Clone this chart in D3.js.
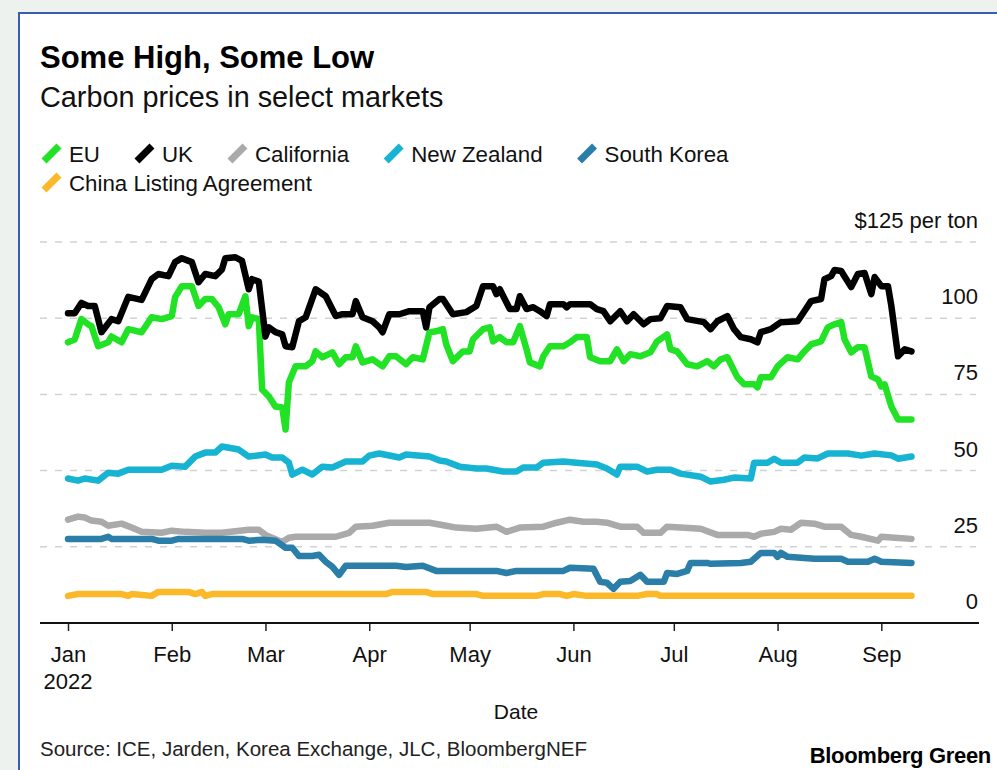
<!DOCTYPE html>
<html><head><meta charset="utf-8">
<script src="https://cdn.jsdelivr.net/npm/d3@7"></script>
<style>
body{margin:0;background:#eef2ee;}
svg{display:block;}
text{font-family:"Liberation Sans",Arial,Helvetica,sans-serif;}
</style>
</head><body>
<svg id="chart" width="997" height="770"></svg>
<script>
// ---------- DATA ----------
const seriesNames = ["EU", "UK", "California", "New Zealand", "South Korea", "China Listing Agreement"];
const seriesColors = ["#22e226", "#000000", "#aaaaaa", "#16b4d2", "#2b7ea8", "#fbb829"];
const monthTicks = ["Jan", "Feb", "Mar", "Apr", "May", "Jun", "Jul", "Aug", "Sep"];
const yTicks = [0, 25, 50, 75, 100, 125];

const eu = [["Jan 1",92.1],["Jan 3",93],["Jan 5",99.7],["Jan 7",98],["Jan 8",97.4],["Jan 10",90.8],["Jan 13",92.1],["Jan 14",94],["Jan 17",92.1],["Jan 19",96.4],["Jan 23",95.4],["Jan 26",100.3],["Jan 29",99.7],["Feb 1",100.7],["Feb 2",106.9],["Feb 4",110.5],["Feb 7",110.5],["Feb 9",104],["Feb 11",106.3],["Feb 13",106.3],["Feb 15",103.6],["Feb 17",98],["Feb 18",101.3],["Feb 21",101.3],["Feb 23",107.2],["Feb 24",97.4],["Feb 25",100.3],["Feb 27",99.7],["Feb 28",76.6],["Mar 2",74.3],["Mar 4",71],["Mar 6",70.7],["Mar 7",63.5],["Mar 8",79],["Mar 10",84.2],["Mar 13",84.2],["Mar 15",85.9],["Mar 16",89.1],["Mar 18",87.2],["Mar 21",88.8],["Mar 23",84.9],["Mar 25",87.2],["Mar 27",87.2],["Mar 28",90.8],["Mar 30",85.5],["Apr 2",86.5],["Apr 5",84.2],["Apr 7",87.5],["Apr 9",87.5],["Apr 12",84.9],["Apr 14",87.2],["Apr 17",86.5],["Apr 19",95.4],["Apr 21",95.7],["Apr 23",96.4],["Apr 24",91.4],["Apr 26",85.9],["Apr 29",89.1],["May 1",89.1],["May 2",93.1],["May 5",96.4],["May 7",97],["May 8",92.4],["May 10",93.8],["May 12",92.1],["May 14",92.1],["May 16",97.4],["May 18",89.8],["May 19",85.5],["May 22",84.2],["May 23",87.5],["May 25",90.8],["May 29",90.8],["May 31",92.1],["Jun 2",93.8],["Jun 5",93.8],["Jun 6",87.2],["Jun 9",85.9],["Jun 12",85.9],["Jun 14",89.8],["Jun 16",85.9],["Jun 18",88.2],["Jun 21",87.5],["Jun 24",88.8],["Jun 26",92.4],["Jun 29",94.7],["Jun 30",89.8],["Jul 2",89.1],["Jul 5",84.9],["Jul 8",84.2],["Jul 11",85.9],["Jul 13",84.2],["Jul 15",86.5],["Jul 17",87.2],["Jul 20",80.6],["Jul 22",78.3],["Jul 25",78.3],["Jul 26",77.3],["Jul 27",80.6],["Jul 30",80.6],["Aug 1",84.2],["Aug 4",87.2],["Aug 7",86.5],["Aug 9",89.1],["Aug 11",91.4],["Aug 14",92.4],["Aug 16",97],["Aug 18",98],["Aug 20",98.7],["Aug 21",93.1],["Aug 23",88.8],["Aug 25",90.5],["Aug 27",90.5],["Aug 29",80.9],["Aug 31",79.9],["Sep 1",77.6],["Sep 2",78.3],["Sep 4",71],["Sep 6",66.8],["Sep 10",66.8]];

const uk = [["Jan 1",101.6],["Jan 3",101.6],["Jan 5",105],["Jan 7",104],["Jan 9",104],["Jan 11",95.4],["Jan 14",99.7],["Jan 16",99],["Jan 19",107],["Jan 23",106],["Jan 26",112.8],["Jan 28",114.5],["Jan 31",113.8],["Feb 2",118.4],["Feb 4",119.7],["Feb 7",118.4],["Feb 9",111.8],["Feb 11",114.5],["Feb 14",113.8],["Feb 16",116],["Feb 17",119.7],["Feb 20",120],["Feb 22",118.8],["Feb 24",109.5],["Feb 25",112.8],["Feb 27",112],["Mar 1",94],["Mar 2",97],["Mar 4",95.4],["Mar 6",94.7],["Mar 7",90.8],["Mar 9",90.5],["Mar 11",99],["Mar 13",100.3],["Mar 16",109.5],["Mar 19",107.2],["Mar 22",100.7],["Mar 24",101.3],["Mar 27",101.3],["Mar 28",105.6],["Mar 30",100.3],["Apr 2",99],["Apr 4",97],["Apr 5",95.4],["Apr 7",101.3],["Apr 10",101.3],["Apr 13",102.3],["Apr 17",102.3],["Apr 18",97],["Apr 19",103.6],["Apr 22",106.3],["Apr 23",106.3],["Apr 26",101.3],["Apr 30",102],["May 3",104],["May 5",110.5],["May 8",110.5],["May 9",107.9],["May 10",109.5],["May 13",103],["May 15",103],["May 16",107.2],["May 18",103],["May 20",103.6],["May 22",102.3],["May 24",100.7],["May 25",104.6],["May 29",104.6],["May 30",103.6],["May 31",104.6],["Jun 6",104.6],["Jun 8",103],["Jun 10",102.3],["Jun 12",99],["Jun 15",102.3],["Jun 17",99],["Jun 19",101.3],["Jun 22",98],["Jun 24",99.7],["Jun 27",100],["Jun 29",104],["Jul 3",103.6],["Jul 5",99.7],["Jul 10",98.7],["Jul 12",96.4],["Jul 14",99],["Jul 17",100.7],["Jul 19",96.4],["Jul 21",93.8],["Jul 24",93.1],["Jul 26",92.1],["Jul 27",95.4],["Jul 30",96.4],["Aug 2",98.7],["Aug 7",99],["Aug 9",102.3],["Aug 11",105.6],["Aug 14",106.3],["Aug 15",112.8],["Aug 17",113.8],["Aug 18",115.8],["Aug 20",115.5],["Aug 23",110.2],["Aug 25",114.5],["Aug 27",114.8],["Aug 29",107.9],["Aug 30",113.5],["Sep 1",110.5],["Sep 3",110.5],["Sep 4",104],["Sep 6",87.5],["Sep 8",89.8],["Sep 10",89.1]];

const california = [["Jan 1",33.9],["Jan 4",34.9],["Jan 6",34.6],["Jan 8",33.6],["Jan 11",33.2],["Jan 13",31.9],["Jan 17",32.6],["Jan 20",31.3],["Jan 23",29.9],["Jan 29",29.6],["Feb 1",30.3],["Feb 5",29.9],["Feb 11",29.6],["Feb 16",29.6],["Feb 24",30.6],["Feb 27",30.6],["Mar 1",28.9],["Mar 6",26.6],["Mar 8",28],["Mar 10",28.3],["Mar 22",28.3],["Mar 26",29.6],["Mar 28",31.6],["Apr 2",31.9],["Apr 7",32.9],["Apr 19",32.9],["Apr 24",31.9],["Apr 27",31.3],["May 3",30.9],["May 9",31.6],["May 12",29.9],["May 16",31.3],["May 23",31.6],["May 27",32.9],["May 31",33.9],["Jun 4",33.2],["Jun 8",33.2],["Jun 11",32.9],["Jun 15",31.6],["Jun 20",31.6],["Jun 22",29.6],["Jun 27",29.6],["Jun 29",31.6],["Jul 3",31.3],["Jul 9",30.9],["Jul 14",28.9],["Jul 23",28.9],["Jul 25",28.3],["Jul 27",29.3],["Jul 31",29.9],["Aug 2",30.9],["Aug 5",30.6],["Aug 8",32.9],["Aug 12",32.6],["Aug 15",31.6],["Aug 20",31.6],["Aug 23",28.9],["Aug 26",28.3],["Aug 31",27],["Sep 1",28.3],["Sep 5",28],["Sep 10",27.6]];

const newZealand = [["Jan 1",47.4],["Jan 4",46.7],["Jan 6",47.4],["Jan 10",46.7],["Jan 13",49.3],["Jan 16",49],["Jan 19",50.3],["Jan 29",50.3],["Feb 1",51.6],["Feb 5",51.3],["Feb 8",54.6],["Feb 11",55.9],["Feb 14",55.9],["Feb 16",57.9],["Feb 21",56.9],["Feb 24",54.6],["Mar 1",55.3],["Mar 3",54.3],["Mar 6",54.3],["Mar 8",52.6],["Mar 9",48.7],["Mar 12",50.3],["Mar 15",48.7],["Mar 18",51.3],["Mar 21",51],["Mar 25",53],["Mar 30",53],["Apr 1",54.9],["Apr 4",55.6],["Apr 10",54.3],["Apr 12",55.3],["Apr 19",54.6],["Apr 22",53.3],["Apr 24",53],["Apr 28",51.3],["May 3",50.7],["May 6",50.7],["May 11",49.7],["May 15",49.7],["May 17",51],["May 21",51],["May 23",52.6],["May 29",53],["Jun 2",52.6],["Jun 8",52],["Jun 11",50.7],["Jun 14",48.7],["Jun 15",51.3],["Jun 20",51.3],["Jun 23",49.7],["Jun 26",50.3],["Jun 30",50.3],["Jul 3",49],["Jul 9",48],["Jul 12",46.4],["Jul 16",47],["Jul 19",47.7],["Jul 24",47.4],["Jul 25",52.6],["Jul 29",52.6],["Jul 31",53.9],["Aug 2",52.6],["Aug 7",52.6],["Aug 9",54.3],["Aug 13",54],["Aug 16",55.6],["Aug 22",55.6],["Aug 26",54.9],["Aug 30",55.6],["Sep 4",55],["Sep 6",53.9],["Sep 10",54.6]];

const southKorea = [["Jan 1",27.6],["Jan 11",27.6],["Jan 13",28.3],["Jan 14",27.6],["Jan 26",27.6],["Jan 28",27],["Feb 1",27],["Feb 3",27.6],["Feb 22",27.6],["Feb 24",27],["Feb 28",27.3],["Mar 4",27],["Mar 7",24.7],["Mar 9",24.7],["Mar 11",22],["Mar 15",22],["Mar 17",22.4],["Mar 19",20.1],["Mar 21",18.4],["Mar 23",15.8],["Mar 25",18.8],["Apr 9",18.8],["Apr 12",18.4],["Apr 17",18.8],["Apr 21",17.1],["May 9",17.1],["May 12",16.4],["May 15",17.1],["May 29",17.1],["May 31",18.1],["Jun 7",17.8],["Jun 9",13.5],["Jun 11",13.2],["Jun 13",11.2],["Jun 15",13.5],["Jun 18",13.8],["Jun 21",15.8],["Jun 23",13.5],["Jun 28",13.5],["Jun 29",16.4],["Jul 2",16.1],["Jul 5",17.1],["Jul 6",19.7],["Jul 11",19.7],["Jul 12",19.4],["Jul 21",19.7],["Jul 24",20.1],["Jul 27",23],["Jul 31",23],["Aug 1",21.7],["Aug 2",23],["Aug 4",21.7],["Aug 12",21.1],["Aug 20",21.1],["Aug 22",20.1],["Aug 28",20.1],["Aug 30",21.1],["Sep 1",20.1],["Sep 10",19.7]];

const china = [["Jan 1",8.9],["Jan 4",9.5],["Jan 17",9.5],["Jan 19",8.9],["Jan 20",9.5],["Jan 26",8.9],["Jan 28",10.2],["Feb 6",10.2],["Feb 8",9.5],["Feb 10",10.2],["Feb 11",8.9],["Feb 13",9.5],["Apr 6",9.5],["Apr 8",10.2],["Apr 18",10.2],["Apr 20",9.5],["May 3",9.5],["May 5",8.9],["May 21",8.9],["May 23",9.5],["May 28",9.5],["May 30",8.9],["Jun 1",9.5],["Jun 5",8.9],["Jun 20",8.9],["Jun 23",9.5],["Jun 26",9.5],["Jun 27",8.9],["Sep 10",8.9]];

const seriesData = [eu, uk, california, newZealand, southKorea, china];

// ---------- DRAW ----------
const svg = d3.select("#chart");
const parse = s => d3.timeParse("%b %e %Y")(s + " 2022");

const x = d3.scaleTime()
  .domain([parse("Jan 1"), parse("Sep 10")])
  .range([68, 68 + 252 * 3.347]);
const y = d3.scaleLinear().domain([0, 125]).range([623, 242]);

// card
svg.append("rect").attr("x", 19).attr("y", 13).attr("width", 1000).attr("height", 800)
  .attr("fill", "#ffffff").attr("stroke", "#3a5db3").attr("stroke-width", 2);

// title / subtitle
svg.append("text").attr("x", 40).attr("y", 68).text("Some High, Some Low")
  .attr("font-size", 31).attr("font-weight", "bold").attr("fill", "#000");
svg.append("text").attr("x", 40).attr("y", 107).text("Carbon prices in select markets")
  .attr("font-size", 28.8).attr("fill", "#111");

// legend (flow layout)
const legend = svg.append("g");
let lx = 42, ly = 162;
seriesNames.forEach((name, i) => {
  const g = legend.append("g");
  const t = g.append("text").attr("font-size", 22.3).attr("fill", "#111").text(name);
  const w = t.node().getComputedTextLength();
  if (lx + 27 + w > 978) { lx = 42; ly += 29; }
  g.append("line")
    .attr("x1", lx + 2).attr("y1", ly - 1).attr("x2", lx + 17).attr("y2", ly - 16)
    .attr("stroke", seriesColors[i]).attr("stroke-width", 7);
  t.attr("x", lx + 27).attr("y", ly);
  lx += 27 + w + 35;
});

// grid lines and y labels
const yGrid = yTicks.filter(v => v > 0);
svg.append("g").selectAll("line").data(yGrid).join("line")
  .attr("x1", 40).attr("x2", 976)
  .attr("y1", d => y(d)).attr("y2", d => y(d))
  .attr("stroke", "#d2d2d2").attr("stroke-width", 1.5).attr("stroke-dasharray", "7,8");

svg.append("g").selectAll("text").data(yTicks).join("text")
  .attr("x", 978).attr("y", d => y(d) - 14)
  .attr("text-anchor", "end").attr("font-size", 22).attr("fill", "#111")
  .text(d => d === 125 ? "$125 per ton" : d);

// lines
const line = d3.line().x(d => x(parse(d[0]))).y(d => y(d[1]));
const drawOrder = [2, 4, 5, 3, 0, 1];
svg.append("g").selectAll("path").data(drawOrder).join("path")
  .attr("d", i => line(seriesData[i]))
  .attr("fill", "none")
  .attr("stroke", i => seriesColors[i])
  .attr("stroke-width", 6.5)
  .attr("stroke-linejoin", "round")
  .attr("stroke-linecap", "round");

// x axis
const monthDates = monthTicks.map(m => parse(m + " 1"));
const xAxis = d3.axisBottom(x).tickValues(monthDates).tickSize(8)
  .tickFormat((d, i) => monthTicks[i]);
const ax = svg.append("g").attr("transform", "translate(0,623)").call(xAxis);
ax.select(".domain").remove();
ax.selectAll(".tick line").attr("stroke", "#222").attr("stroke-width", 1.5);
ax.selectAll(".tick text").attr("y", 39).attr("dy", 0)
  .attr("font-size", 22).attr("fill", "#111")
  .attr("font-family", "'Liberation Sans',Arial,sans-serif");
svg.append("line").attr("x1", 40).attr("x2", 979).attr("y1", 623).attr("y2", 623)
  .attr("stroke", "#111").attr("stroke-width", 2);
svg.append("text").attr("x", x(monthDates[0])).attr("y", 689).attr("text-anchor", "middle")
  .attr("font-size", 22).attr("fill", "#111").text("2022");
svg.append("text").attr("x", 516).attr("y", 719).attr("text-anchor", "middle")
  .attr("font-size", 21).attr("fill", "#111").text("Date");

// footer
svg.append("text").attr("x", 40).attr("y", 756)
  .attr("font-size", 20.5).attr("fill", "#222")
  .text("Source: ICE, Jarden, Korea Exchange, JLC, BloombergNEF");
svg.append("text").attr("x", 991).attr("y", 763).attr("text-anchor", "end")
  .attr("font-size", 22).attr("font-weight", "bold").attr("fill", "#000")
  .attr("letter-spacing", -0.3)
  .text("Bloomberg Green");
</script>
</body></html>
